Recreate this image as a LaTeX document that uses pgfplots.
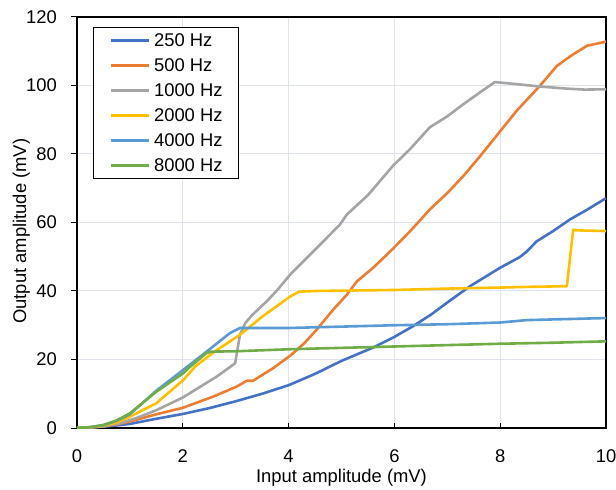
\documentclass[border=0pt]{standalone}
\usepackage{pgfplots}
\pgfplotsset{compat=1.18}
\usepackage{fontspec}
\setmainfont{Liberation Sans}
\definecolor{c250}{HTML}{4472C4}
\definecolor{c500}{HTML}{ED7D31}
\definecolor{c1000}{HTML}{A5A5A5}
\definecolor{c2000}{HTML}{FFC000}
\definecolor{c4000}{HTML}{5B9BD5}
\definecolor{c8000}{HTML}{70AD47}
\definecolor{gridc}{HTML}{DFE4EC}
\begin{document}
\fontsize{18.4bp}{22bp}\selectfont
\begin{tikzpicture}
\useasboundingbox (-77bp,-62bp) rectangle (539bp,428bp);
\begin{axis}[
  at={(0,0)}, anchor=south west,
  scale only axis, width=529bp, height=411bp,
  xmin=0, xmax=10, ymin=0, ymax=120,
  xtick={0,2,4,6,8,10}, ytick={0,20,40,60,80,100,120},
  tick pos=left, tick align=inside, major tick length=5.5bp,
  every major y tick/.append style={xshift=-5.5bp},
  tick style={black, line width=1bp},
  grid=major, grid style={color=gridc, line width=1bp},
  axis line style={black, line width=1.2bp},
  /pgf/number format/assume math mode=true,
  xticklabel style={anchor=base, inner sep=0pt, yshift=-34bp},
  yticklabel style={anchor=east, inner sep=0pt, xshift=-20bp},
  xlabel={Input amplitude (mV)}, ylabel={Output amplitude (mV)},
  xlabel style={at={(axis description cs:0.5,-0.13139)}, anchor=base, inner sep=0pt},
  ylabel style={at={(axis description cs:-0.09641,0.479)}, anchor=base, inner sep=0pt},
  legend style={at={(0.03025,0.97567)}, anchor=north west, draw=black, line width=0.9bp,
    inner xsep=16bp, inner ysep=6.5bp, row sep=12bp, column sep=4bp,
    nodes={inner sep=0pt, text height=13bp, text depth=0pt}},
  legend cell align=left,
  legend image code/.code={\path (0bp,0bp) -- (6bp,0bp); \draw[#1] (6bp,0bp) -- (38bp,0bp);},
  every axis plot/.append style={line width=2.6bp, line join=round, no marks},
]
\addplot[c250] coordinates {(0,0)(0.25,0.15)(0.5,0.4)(0.75,0.75)(1,1.2)(1.5,2.7)(2,4.1)(2.5,5.8)(3,7.8)(3.5,10)(4,12.5)(4.5,15.8)(5,19.6)(5.6,23.5)(6,26.6)(6.36,29.8)(6.7,33.2)(7.05,37.2)(7.43,41.4)(8,46.8)(8.37,49.9)(8.5,51.5)(8.69,54.5)(9,57.5)(9.32,60.9)(9.65,63.8)(10,67.1)};
\addlegendentry{250 Hz}
\addplot[c500] coordinates {(0,0)(0.25,0.15)(0.5,0.5)(0.75,1.05)(1,1.9)(1.5,4)(2,5.9)(2.58,9.2)(3.02,12.1)(3.21,13.8)(3.33,13.8)(3.71,17.5)(4.03,21.1)(4.3,24.8)(4.53,28.7)(4.84,34.5)(5.1,38.9)(5.29,42.8)(5.6,46.8)(5.97,52.3)(6.3,57.5)(6.67,63.8)(7,68.6)(7.3,73.5)(7.6,79)(7.93,85.3)(8.31,92.6)(8.75,99.9)(9.07,105.7)(9.35,108.8)(9.64,111.6)(10,112.8)};
\addlegendentry{500 Hz}
\addplot[c1000] coordinates {(0,0)(0.25,0.15)(0.5,0.5)(0.75,1.2)(1,2.3)(1.19,3.3)(1.5,5.2)(2,8.9)(2.64,15)(2.99,18.9)(3.08,27.2)(3.18,30.6)(3.3,32.8)(3.45,35)(3.6,37.2)(3.8,40.5)(4.03,44.8)(4.53,52.5)(4.97,59.4)(5.1,62.3)(5.5,68)(5.97,76.5)(6.3,81.5)(6.67,87.8)(7,91)(7.3,94.5)(7.6,97.8)(7.9,101)(8.31,100.4)(8.75,99.7)(9.25,99.1)(9.6,98.8)(10,98.9)};
\addlegendentry{1000 Hz}
\addplot[c2000] coordinates {(0,0)(0.25,0.2)(0.5,0.6)(0.75,1.6)(1,3.3)(1.19,4.8)(1.5,7.2)(1.57,8.2)(2.01,14)(2.23,17.9)(2.6,22.3)(3.08,27.2)(3.5,32.5)(4.03,38.4)(4.2,39.8)(4.5,40)(5,40.1)(6,40.3)(7,40.7)(8,41)(8.5,41.2)(9.26,41.4)(9.38,57.9)(9.45,57.7)(10,57.5)};
\addlegendentry{2000 Hz}
\addplot[c4000] coordinates {(0,0)(0.25,0.25)(0.5,0.8)(0.75,2.1)(1,4)(1.5,10.9)(2.01,17)(2.45,22.3)(2.89,27.7)(3.08,29.2)(4,29.2)(5,29.6)(6,30)(7,30.3)(8,30.8)(8.5,31.5)(9.5,31.9)(10,32.1)};
\addlegendentry{4000 Hz}
\addplot[c8000] coordinates {(0,0)(0.25,0.25)(0.5,0.9)(0.75,2.2)(1,4.3)(1.5,10.6)(2.01,16)(2.14,17.9)(2.45,21.9)(2.54,22.3)(3,22.4)(4.03,23)(5,23.4)(6,23.8)(7,24.2)(8,24.6)(9,24.9)(10,25.3)};
\addlegendentry{8000 Hz}
\end{axis}
\end{tikzpicture}
\end{document}
